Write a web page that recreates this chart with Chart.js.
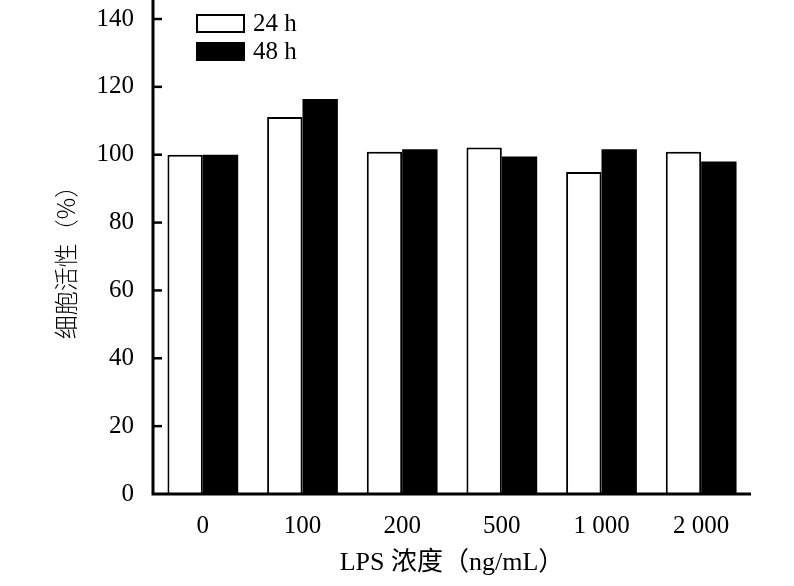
<!DOCTYPE html>
<html>
<head>
<meta charset="utf-8">
<script src="https://cdn.jsdelivr.net/npm/chart.js@4"></script>
<style>
  html, body { margin: 0; padding: 0; background: #fff; }
  #wrap { width: 794px; height: 586px; }
</style>
</head>
<body>
<div id="wrap"><canvas id="chart"></canvas></div>
<script>
const categories = ['0', '100', '200', '500', '1 000', '2 000'];
const series24h = [100, 111.1, 100.9, 102.1, 94.9, 100.9];
const series48h = [100, 116.4, 101.6, 99.5, 101.6, 98.0];
const yTicks = [0, 20, 40, 60, 80, 100, 120, 140];

const serif = "'Liberation Serif', 'Noto Sans CJK SC', serif";

// inward tick marks on the y axis, axis lines drawn over the bars
const innerTicks = {
  id: 'innerTicks',
  afterDatasetsDraw(chart) {
    const { ctx, chartArea, scales } = chart;
    ctx.save();
    ctx.strokeStyle = '#000';
    ctx.lineWidth = 2.5;
    yTicks.forEach(v => {
      if (v === 0) return;
      const y = scales.y.getPixelForValue(v);
      ctx.beginPath();
      ctx.moveTo(chartArea.left, y);
      ctx.lineTo(chartArea.left + 9, y);
      ctx.stroke();
    });
    ctx.lineWidth = 3;
    ctx.beginPath();
    ctx.moveTo(chartArea.left, 0);
    ctx.lineTo(chartArea.left, chartArea.bottom);
    ctx.lineTo(chartArea.right, chartArea.bottom);
    ctx.stroke();
    ctx.restore();
  }
};

// legend stacked vertically inside the plot
const boxLegend = {
  id: 'boxLegend',
  afterDraw(chart) {
    const { ctx } = chart;
    ctx.save();
    ctx.font = '25px ' + serif;
    ctx.textBaseline = 'middle';
    chart.data.datasets.forEach((ds, i) => {
      const x = 196, y = 14 + i * 28;
      ctx.fillStyle = ds.backgroundColor;
      ctx.fillRect(x, y, 49, 19);
      ctx.strokeStyle = '#000';
      ctx.lineWidth = 2;
      ctx.strokeRect(x + 1, y + 1, 47, 17);
      ctx.fillStyle = '#000';
      ctx.fillText(ds.label, 253, y + 10);
    });
    ctx.restore();
  }
};

new Chart(document.getElementById('chart'), {
  type: 'bar',
  data: {
    labels: categories,
    datasets: [
      {
        label: '24 h',
        data: series24h,
        backgroundColor: '#fff',
        borderColor: '#000',
        borderWidth: 2
      },
      {
        label: '48 h',
        data: series48h,
        backgroundColor: '#000',
        borderColor: '#000',
        borderWidth: 0
      }
    ]
  },
  options: {
    responsive: true,
    maintainAspectRatio: false,
    animation: false,
    layout: { padding: { top: 19, right: 43, left: 0, bottom: 0 } },
    datasets: { bar: { barPercentage: 1, categoryPercentage: 0.71 } },
    plugins: {
      legend: { display: false },
      tooltip: { enabled: false }
    },
    scales: {
      x: {
        grid: { display: false, drawTicks: false },
        border: { display: false },
        ticks: { color: '#000', padding: 17, font: { family: serif, size: 25 } },
        title: {
          display: true,
          text: 'LPS 浓度（ng/mL）',
          color: '#000',
          font: { family: serif, size: 26 },
          padding: { top: 0, bottom: 7 }
        },
        afterFit(scale) { scale.height = 92; }
      },
      y: {
        min: 0,
        max: 140,
        grid: { display: false, drawTicks: false },
        border: { display: false },
        ticks: {
          stepSize: 20,
          color: '#000',
          padding: 19,
          font: { family: serif, size: 25 }
        },
        title: {
          display: true,
          text: '细胞活性（%）',
          color: '#000',
          font: { family: "'Noto Sans CJK SC', sans-serif", size: 24, weight: '300' },
          padding: { top: 51, bottom: 0 }
        },
        afterFit(scale) {
          scale.width = 153;
          scale.paddingTop = 0;
          scale.paddingBottom = 0;
        }
      }
    }
  },
  plugins: [innerTicks, boxLegend]
});
</script>
</body>
</html>
